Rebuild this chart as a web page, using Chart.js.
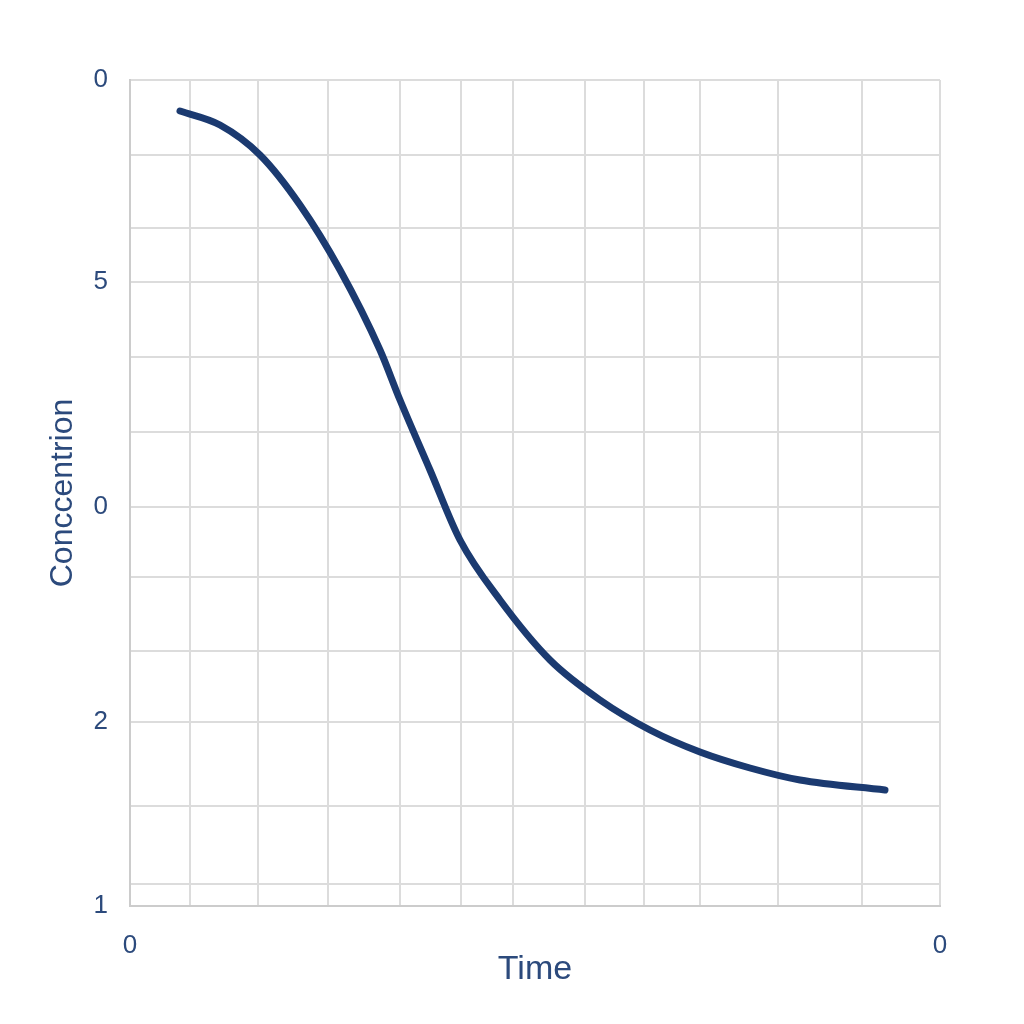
<!doctype html>
<html lang="en">
<head>
<meta charset="utf-8">
<title>Concentration vs Time</title>
<script src="https://cdn.jsdelivr.net/npm/chart.js@4/dist/chart.umd.min.js"></script>
<style>
  html, body { margin: 0; padding: 0; background: #fff; }
  #canvas { display: block; }
</style>
</head>
<body>
<canvas id="canvas" width="1024" height="1024"></canvas>
<script>
// time (arbitrary units) and concentration (measured down from the top)
var timeData = [50, 90, 130, 170, 210, 250, 270, 300, 330, 370, 420, 470, 520, 570, 620, 670, 755]
var concData = [31, 45, 75, 125, 190, 270, 320, 390, 460, 520, 580, 620, 650, 672, 688, 700, 710]

// grid positions and the few labels the chart shows
var yTicks = [0, 75, 148, 202, 277, 352, 427, 497, 571, 642, 726, 804, 826]
var yLabels = { 0: '0', 202: '5', 427: '0', 642: '2', 826: '1' }
var xTicks = [0, 60, 128, 198, 270, 331, 383, 455, 514, 570, 648, 732, 810]
var xLabels = { 0: '0', 810: '0' }

var points = timeData.map(function (t, i) { return { x: t, y: concData[i] } })
var textColor = '#2c4a7c'

var ctx = document.getElementById('canvas').getContext('2d')
new Chart(ctx, {
  type: 'line',
  data: {
    datasets: [{
      data: points,
      borderColor: '#1b3a70',
      borderWidth: 7,
      pointRadius: 0,
      cubicInterpolationMode: 'monotone',
      borderCapStyle: 'round',
      fill: false
    }]
  },
  options: {
    responsive: false,
    animation: false,
    layout: { padding: { left: 40, right: 84, top: 80, bottom: 30 } },
    plugins: { legend: { display: false }, tooltip: { enabled: false } },
    scales: {
      x: {
        type: 'linear', min: 0, max: 810,
        afterBuildTicks: function (s) { s.ticks = xTicks.map(function (v) { return { value: v } }) },
        afterFit: function (s) { s.height = 88 },
        grid: { color: '#dcdcdc', lineWidth: 2, drawTicks: false },
        border: { color: '#cccccc', width: 2 },
        ticks: {
          autoSkip: false, maxRotation: 0, padding: 24, color: textColor,
          font: { family: 'Liberation Sans', size: 26 },
          callback: function (v) { return xLabels[v] || '' }
        },
        title: {
          display: true, text: 'Time', color: textColor, padding: { top: -8 },
          font: { family: 'Liberation Sans', size: 34 }
        }
      },
      y: {
        type: 'linear', min: 0, max: 826, reverse: true,
        afterBuildTicks: function (s) { s.ticks = yTicks.map(function (v) { return { value: v } }) },
        afterFit: function (s) { s.width = 90 },
        grid: { color: '#dcdcdc', lineWidth: 2, drawTicks: false },
        border: { color: '#cccccc', width: 2 },
        ticks: {
          autoSkip: false, padding: 22, color: textColor,
          font: { family: 'Liberation Sans', size: 26 },
          callback: function (v) { return yLabels[v] || '' }
        },
        title: {
          display: true, text: 'Conccentrion', color: textColor, padding: { bottom: 2 },
          font: { family: 'Liberation Sans', size: 32 }
        }
      }
    }
  }
})
</script>
</body>
</html>
